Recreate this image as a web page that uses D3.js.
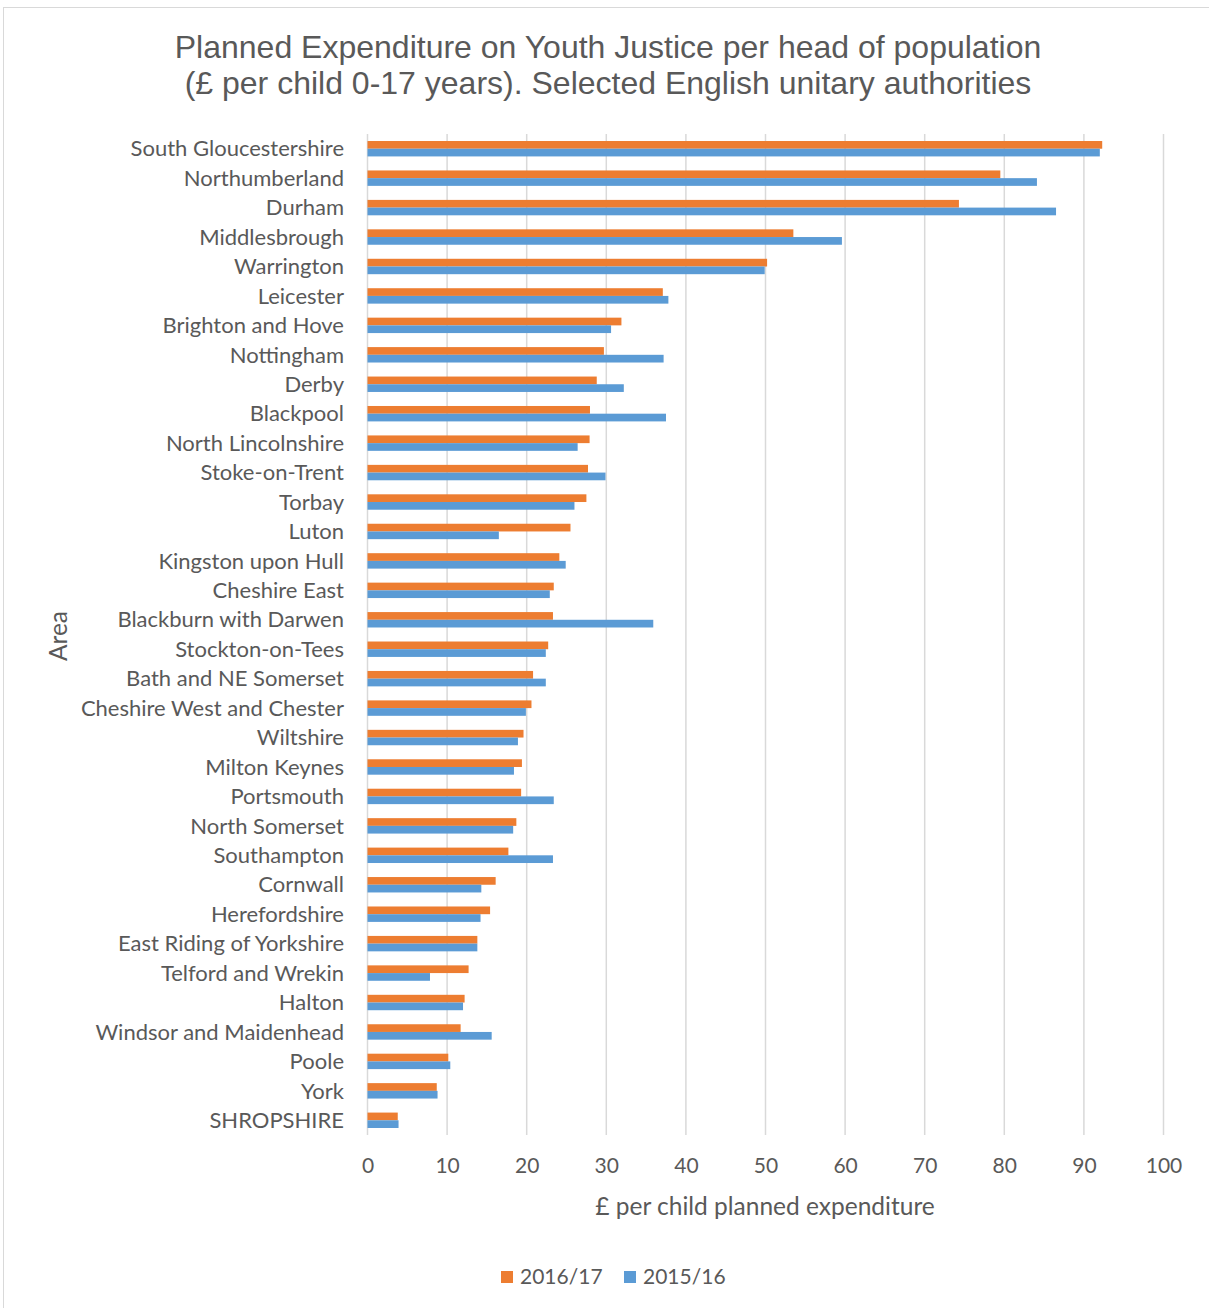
<!DOCTYPE html>
<html>
<head>
<meta charset="utf-8">
<script src="https://cdn.jsdelivr.net/npm/d3@7"></script>
<style>
  html, body { margin: 0; padding: 0; background: #ffffff; }
  svg { display: block; }
</style>
</head>
<body>
<div id="chart"></div>
<script>
// Areas, top to bottom
const areas = [
  "South Gloucestershire", "Northumberland", "Durham", "Middlesbrough", "Warrington",
  "Leicester", "Brighton and Hove", "Nottingham", "Derby", "Blackpool",
  "North Lincolnshire", "Stoke-on-Trent", "Torbay", "Luton", "Kingston upon Hull",
  "Cheshire East", "Blackburn with Darwen", "Stockton-on-Tees", "Bath and NE Somerset",
  "Cheshire West and Chester", "Wiltshire", "Milton Keynes", "Portsmouth",
  "North Somerset", "Southampton", "Cornwall", "Herefordshire",
  "East Riding of Yorkshire", "Telford and Wrekin", "Halton", "Windsor and Maidenhead",
  "Poole", "York", "SHROPSHIRE"
];

// £ per child planned expenditure, 2016/17
const spend2016 = [
  92.3, 79.5, 74.3, 53.5, 50.2,
  37.1, 31.9, 29.7, 28.8, 27.95,
  27.9, 27.7, 27.5, 25.5, 24.1,
  23.4, 23.3, 22.7, 20.8,
  20.6, 19.6, 19.4, 19.3,
  18.7, 17.7, 16.1, 15.4,
  13.8, 12.7, 12.2, 11.7,
  10.15, 8.7, 3.8
];

// £ per child planned expenditure, 2015/16
const spend2015 = [
  92.0, 84.1, 86.5, 59.6, 49.9,
  37.8, 30.6, 37.2, 32.2, 37.5,
  26.4, 29.9, 26.0, 16.5, 24.9,
  22.9, 35.9, 22.4, 22.4,
  19.9, 18.9, 18.4, 23.4,
  18.3, 23.3, 14.3, 14.2,
  13.8, 7.85, 12.0, 15.6,
  10.4, 8.8, 3.9
];

const seriesNames = ["2016/17", "2015/16"];
const seriesColors = ["#ED7D31", "#5B9BD5"];
const xTicks = [0, 10, 20, 30, 40, 50, 60, 70, 80, 90, 100];

const titleLines = [
  "Planned Expenditure on Youth Justice per head of population",
  "(£ per child 0-17 years). Selected English unitary authorities"
];

const W = 1209, H = 1308;
const plot = { left: 367.5, right: 1163.5, top: 134, bottom: 1135 };
const textColor = "#595959";
const labelFont = "Lato, 'Open Sans', sans-serif";

const svg = d3.select("#chart").append("svg")
  .attr("width", W).attr("height", H);

// chart frame
svg.append("rect")
  .attr("x", 3.5).attr("y", 7.5)
  .attr("width", W + 10).attr("height", H + 10)
  .attr("fill", "#ffffff")
  .attr("stroke", "#d9d9d9").attr("stroke-width", 1);

const x = d3.scaleLinear().domain([0, 100]).range([plot.left, plot.right]);

const y0 = d3.scaleBand().domain(areas).range([plot.top, plot.bottom])
  .paddingInner(0).paddingOuter(0);

const y1 = d3.scaleBand().domain(seriesNames).range([0, y0.bandwidth()])
  .paddingInner(0).paddingOuter(0.91);

// vertical gridlines
svg.append("g").selectAll("line")
  .data(xTicks)
  .join("line")
  .attr("x1", d => x(d)).attr("x2", d => x(d))
  .attr("y1", plot.top).attr("y2", plot.bottom)
  .attr("stroke", "#d9d9d9").attr("stroke-width", 1.5);

// bars
const rows = areas.map((a, i) => ({ area: a, values: [spend2016[i], spend2015[i]] }));

const groups = svg.append("g").selectAll("g")
  .data(rows)
  .join("g")
  .attr("transform", d => `translate(0,${y0(d.area)})`);

groups.selectAll("rect")
  .data(d => d.values.map((v, k) => ({ series: seriesNames[k], value: v, color: seriesColors[k] })))
  .join("rect")
  .attr("x", x(0))
  .attr("y", d => y1(d.series))
  .attr("width", d => x(d.value) - x(0))
  .attr("height", y1.bandwidth())
  .attr("fill", d => d.color);

// category axis labels
const yAxis = d3.axisLeft(y0).tickSize(0).tickPadding(0);
const yAxisG = svg.append("g")
  .attr("transform", `translate(344,0)`)
  .call(yAxis);
yAxisG.select(".domain").remove();
yAxisG.selectAll("text")
  .attr("font-family", labelFont)
  .attr("font-size", 22)
  .attr("fill", textColor)
  .attr("dy", "0.35em");

// value axis labels
const xAxis = d3.axisBottom(x).tickValues(xTicks).tickSize(0).tickPadding(0);
const xAxisG = svg.append("g")
  .attr("transform", `translate(0,1166)`)
  .call(xAxis);
xAxisG.select(".domain").remove();
xAxisG.selectAll("text")
  .attr("font-family", labelFont)
  .attr("font-size", 21)
  .attr("fill", textColor)
  .attr("dy", "0.35em");

// axis titles
svg.append("text")
  .attr("x", (plot.left + plot.right) / 2 - 0.5)
  .attr("y", 1206)
  .attr("dy", "0.35em")
  .attr("text-anchor", "middle")
  .attr("font-family", labelFont)
  .attr("font-size", 24.5)
  .attr("fill", textColor)
  .text("£ per child planned expenditure");

svg.append("text")
  .attr("transform", "translate(58,636) rotate(-90)")
  .attr("dy", "0.35em")
  .attr("text-anchor", "middle")
  .attr("font-family", labelFont)
  .attr("font-size", 24.5)
  .attr("fill", textColor)
  .text("Area");

// title
svg.append("g").selectAll("text")
  .data(titleLines)
  .join("text")
  .attr("x", 608)
  .attr("y", (d, i) => 47 + i * 36)
  .attr("dy", "0.35em")
  .attr("text-anchor", "middle")
  .attr("font-family", "'Liberation Sans', Arial, sans-serif")
  .attr("font-size", 32)
  .attr("fill", textColor)
  .text(d => d);

// legend
const legend = svg.append("g").attr("transform", "translate(501,1277)");
const legendItems = legend.selectAll("g")
  .data(seriesNames)
  .join("g")
  .attr("transform", (d, i) => `translate(${i * 123},0)`);
legendItems.append("rect")
  .attr("x", 0).attr("y", -6)
  .attr("width", 12).attr("height", 12)
  .attr("fill", (d, i) => seriesColors[i]);
legendItems.append("text")
  .attr("x", 19)
  .attr("dy", "0.35em")
  .attr("font-family", labelFont)
  .attr("font-size", 21)
  .attr("fill", textColor)
  .text(d => d);
</script>
</body>
</html>
